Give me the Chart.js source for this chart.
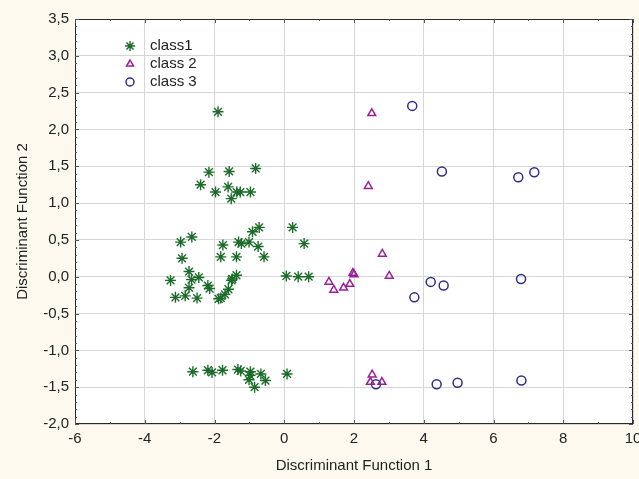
<!DOCTYPE html>
<html>
<head>
<meta charset="utf-8">
<script src="https://cdn.jsdelivr.net/npm/chart.js@4.4.1/dist/chart.umd.min.js"></script>
<style>
  body { margin: 0; background: #fdf9ee; }
  canvas { display: block; }
</style>
</head>
<body>
<canvas id="scatter" width="639" height="479"></canvas>
<script>
// values
const class1X = [-0.72, -0.91, 0.24, -2.65, -2.97, -1.76, -1.31, -1.23, -1.01, -0.75, 0.57,
    -2.93, -1.82, -1.37, -0.58, -2.73, -1.37, -1.49, -2.45, -2.66, -3.26, 0.06, 0.40, 0.70,
    -2.19, -2.14, -2.73, -1.60, -1.70, -3.12, -2.84, -2.50, -1.82, -1.51, -1.88,
    -1.90, -2.16, -1.58, -0.82, -2.40, -1.61, -1.97, -1.36, -1.26, -0.97, -1.52,
    -2.62, -2.19, -2.07, -1.77, -1.33, -1.25, -0.97, -0.67, -1.01, -0.54, -0.85, -0.98, 0.08];
const class1Y = [0.67, 0.61, 0.67, 0.54, 0.47, 0.43, 0.47, 0.45, 0.47, 0.41, 0.45,
    0.25, 0.27, 0.27, 0.27, 0.07, 0.02, -0.03, -0.01, -0.04, -0.05, 0.01, 0.00, 0.00,
    -0.12, -0.16, -0.15, -0.17, -0.24, -0.28, -0.26, -0.29, -0.29, -0.05, -0.30,
    2.24, 1.42, 1.43, 1.47, 1.25, 1.22, 1.15, 1.15, 1.15, 1.15, 1.06,
    -1.29, -1.27, -1.30, -1.27, -1.26, -1.28, -1.29, -1.32, -1.40, -1.41, -1.50, -1.34, -1.32];

const class2X = [2.51, 2.41, 2.81, 1.97, 2.00, 3.01, 1.28, 1.42, 1.70, 1.88, 2.52, 2.47, 2.80];
const class2Y = [2.22, 1.23, 0.31, 0.05, 0.03, 0.01, -0.07, -0.18, -0.15, -0.10, -1.33, -1.43, -1.43];

const class3X = [3.67, 4.52, 6.71, 7.17, 4.20, 4.57, 3.73, 6.79, 2.63, 4.37, 4.97, 6.80];
const class3Y = [2.32, 1.43, 1.35, 1.42, -0.07, -0.12, -0.28, -0.03, -1.46, -1.46, -1.44, -1.41];

const seriesNames = ['class1', 'class 2', 'class 3'];
const xTitle = 'Discriminant Function 1';
const yTitle = 'Discriminant Function 2';

const FONT = 'Arial, "Liberation Sans", sans-serif';

function toPoints(xs, ys) {
    return xs.map((x, i) => ({ x: x, y: ys[i] }));
}

// cream page, white plot area, dark frame with small inward ticks, legend inside the plot
const framePlugin = {
    id: 'frame',
    beforeDraw(chart) {
        const { ctx, chartArea } = chart;
        ctx.save();
        ctx.fillStyle = '#fdf9ee';
        ctx.fillRect(0, 0, chart.width, chart.height);
        ctx.fillStyle = '#ffffff';
        ctx.fillRect(chartArea.left, chartArea.top, chartArea.right - chartArea.left, chartArea.bottom - chartArea.top);
        ctx.restore();
    },
    afterDraw(chart) {
        const { ctx, chartArea } = chart;
        const xs = chart.scales.x, ys = chart.scales.y;
        ctx.save();
        ctx.strokeStyle = '#2a2a2a';
        ctx.lineWidth = 1;
        ctx.strokeRect(chartArea.left + 0.5, chartArea.top + 0.5,
            chartArea.right - chartArea.left - 1, chartArea.bottom - chartArea.top - 1);

        // inward tick marks on all four sides
        ctx.strokeStyle = '#555';
        ctx.beginPath();
        for (let v = xs.min; v <= xs.max + 1e-9; v += 1) {
            const p = Math.round(xs.getPixelForValue(v)) + 0.5;
            const len = (Math.round(v) % 2 === 0) ? 4 : 2;
            ctx.moveTo(p, chartArea.bottom); ctx.lineTo(p, chartArea.bottom - len);
            ctx.moveTo(p, chartArea.top); ctx.lineTo(p, chartArea.top + len);
        }
        for (let k = 0; k <= Math.round((ys.max - ys.min) * 10); k++) {
            const v = ys.min + k / 10;
            const p = Math.round(ys.getPixelForValue(v)) + 0.5;
            const len = (k % 5 === 0) ? 4 : 2;
            ctx.moveTo(chartArea.left, p); ctx.lineTo(chartArea.left + len, p);
            ctx.moveTo(chartArea.right, p); ctx.lineTo(chartArea.right - len, p);
        }
        ctx.stroke();

        // legend
        ctx.font = '15px ' + FONT;
        ctx.textBaseline = 'middle';
        chart.data.datasets.forEach((ds, i) => {
            const px = 130, py = 46 + i * 18;
            ctx.strokeStyle = ds.borderColor;
            ctx.fillStyle = 'rgba(0,0,0,0)';
            ctx.lineWidth = ds.borderWidth;
            Chart.helpers.drawPoint(ctx, { pointStyle: ds.pointStyle, radius: ds.pointRadius - 0.5, borderWidth: ds.borderWidth, rotation: 0 }, px, py);
            ctx.fillStyle = '#222';
            ctx.fillText(ds.label, 150, py);
        });
        ctx.restore();
    }
};

new Chart(document.getElementById('scatter'), {
    type: 'scatter',
    data: {
        datasets: [
            { label: seriesNames[0], data: toPoints(class1X, class1Y), pointStyle: 'star',
              borderColor: '#1c6b2a', backgroundColor: 'rgba(0,0,0,0)', pointRadius: 5.5, borderWidth: 1.4 },
            { label: seriesNames[1], data: toPoints(class2X, class2Y), pointStyle: 'triangle',
              borderColor: '#9a1f96', backgroundColor: 'rgba(0,0,0,0)', pointRadius: 4.5, borderWidth: 1.5 },
            { label: seriesNames[2], data: toPoints(class3X, class3Y), pointStyle: 'circle',
              borderColor: '#2d2d8a', backgroundColor: 'rgba(0,0,0,0)', pointRadius: 4.5, borderWidth: 1.5 }
        ]
    },
    options: {
        responsive: false,
        animation: false,
        layout: { autoPadding: false, padding: { top: 19, right: 6, left: 0, bottom: 0 } },
        plugins: {
            legend: { display: false },
            tooltip: { enabled: false }
        },
        scales: {
            x: {
                type: 'linear',
                min: -6, max: 10,
                afterFit: (scale) => {
                    scale.height = 55;
                    scale.paddingLeft = 0;
                    scale.paddingRight = 0;
                },
                ticks: { stepSize: 2, color: '#222', font: { family: FONT, size: 15 }, padding: 6 },
                grid: { color: '#d6d6d6', drawTicks: false },
                border: { display: false },
                title: { display: true, text: xTitle, color: '#222', font: { family: FONT, size: 15 }, padding: { top: 9 } }
            },
            y: {
                type: 'linear',
                min: -2, max: 3.5,
                afterFit: (scale) => {
                    scale.width = 75;
                    scale.paddingTop = 0;
                    scale.paddingBottom = 0;
                },
                ticks: {
                    stepSize: 0.5, color: '#222', font: { family: FONT, size: 15 }, padding: 6,
                    callback: (v) => v.toFixed(1).replace('.', ',')
                },
                grid: { color: '#d6d6d6', drawTicks: false },
                border: { display: false },
                title: { display: true, text: yTitle, color: '#222', font: { family: FONT, size: 15 }, padding: { top: 14, bottom: 4 } }
            }
        }
    },
    plugins: [framePlugin]
});
</script>
</body>
</html>
